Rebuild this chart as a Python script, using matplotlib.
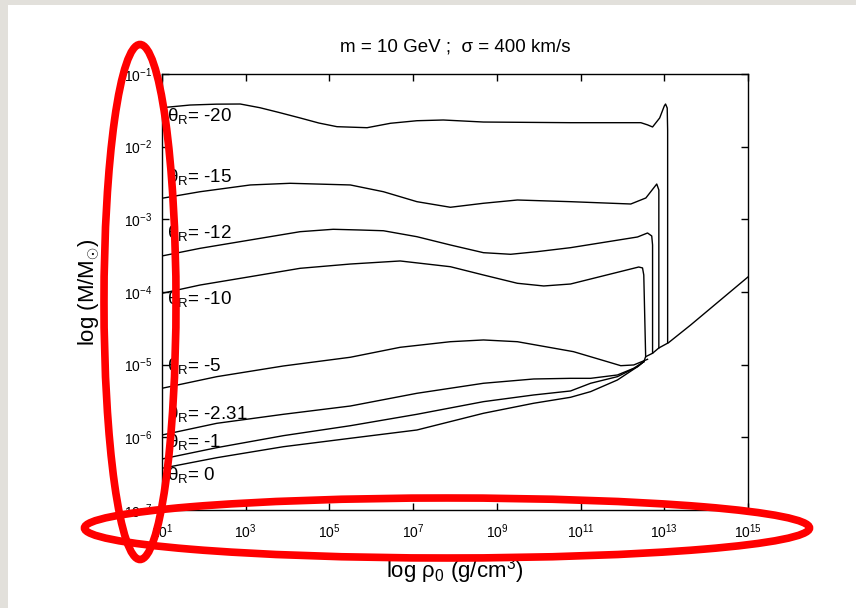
import matplotlib
matplotlib.use("Agg")
import matplotlib.pyplot as plt
from matplotlib.patches import Ellipse, Rectangle
from matplotlib.ticker import NullLocator
import numpy as np

plt.rcParams['font.family'] = ['Liberation Sans', 'DejaVu Sans']
plt.rcParams['mathtext.fontset'] = 'custom'
plt.rcParams['mathtext.rm'] = 'Liberation Sans'
plt.rcParams['mathtext.it'] = 'Liberation Sans:italic'

# curves: log10(rho0) and log10(M/Msun)
lx_20 = [1.0, 1.67, 2.3, 2.87, 3.34, 3.8, 4.30, 4.75, 5.18, 5.90, 6.46, 7.09, 7.72, 8.68, 10.76, 12.44, 12.6, 12.72, 12.89, 13.00, 13.03, 13.07, 13.08, 13.08]
ly_20 = [-1.464, -1.427, -1.415, -1.413, -1.464, -1.53, -1.605, -1.675, -1.725, -1.739, -1.678, -1.643, -1.633, -1.661, -1.670, -1.670, -1.70, -1.729, -1.605, -1.44, -1.413, -1.468, -1.771, -4.70]

lx_15 = [1.0, 1.91, 3.11, 4.06, 5.50, 6.29, 7.09, 7.89, 8.68, 9.49, 10.76, 12.20, 12.56, 12.82, 12.87, 12.87]
ly_15 = [-2.710, -2.620, -2.527, -2.504, -2.527, -2.620, -2.757, -2.834, -2.779, -2.734, -2.757, -2.789, -2.706, -2.514, -2.596, -4.77]

lx_12 = [1.0, 1.91, 3.11, 4.30, 5.09, 5.74, 6.29, 7.09, 7.89, 8.68, 9.33, 9.96, 10.76, 12.36, 12.60, 12.70, 12.72, 12.72]
ly_12 = [-3.504, -3.399, -3.284, -3.170, -3.137, -3.147, -3.157, -3.239, -3.353, -3.459, -3.481, -3.445, -3.390, -3.243, -3.188, -3.229, -3.353, -4.84]

lx_10 = [1.0, 1.91, 3.11, 4.30, 5.50, 6.69, 7.89, 8.68, 9.49, 10.12, 10.76, 12.39, 12.48, 12.51, 12.555]
ly_10 = [-4.018, -3.904, -3.789, -3.674, -3.615, -3.573, -3.652, -3.766, -3.880, -3.917, -3.890, -3.656, -3.669, -3.766, -4.89]

lx_5 = [1.0, 2.31, 3.90, 5.50, 6.69, 7.89, 8.68, 9.49, 10.83, 11.64, 11.96, 12.27, 12.60]
ly_5 = [-5.325, -5.165, -5.018, -4.898, -4.761, -4.684, -4.660, -4.684, -4.821, -4.959, -5.014, -5.004, -4.926]

lx_231 = [1.0, 2.31, 3.90, 5.50, 7.09, 8.68, 9.88, 10.76, 11.24, 11.88, 12.27, 12.51]
ly_231 = [-5.968, -5.807, -5.683, -5.569, -5.394, -5.256, -5.197, -5.188, -5.188, -5.142, -5.050, -4.959]

lx_1 = [1.0, 2.31, 3.90, 5.50, 7.09, 8.68, 9.88, 10.76, 11.24, 11.88, 12.36, 12.51]
ly_1 = [-6.298, -6.142, -5.977, -5.840, -5.683, -5.509, -5.417, -5.362, -5.256, -5.165, -5.028, -4.959]

lx_0 = [1.0, 2.31, 3.90, 5.50, 7.09, 8.68, 9.88, 10.76, 11.24, 11.88, 12.36, 12.51]
ly_0 = [-6.426, -6.280, -6.129, -6.013, -5.899, -5.669, -5.531, -5.449, -5.371, -5.211, -5.028, -4.959]

# common high-density branch
lx_env = [12.51, 12.555, 12.72, 12.87, 13.10, 13.63, 15.0]
ly_env = [-4.959, -4.890, -4.843, -4.770, -4.698, -4.454, -3.793]

labels = ['-20', '-15', '-12', '-10', '-5', '-2.31', '-1', '0']
label_ly = [-1.578, -2.417, -3.188, -4.096, -5.018, -5.679, -6.064, -6.518]

curves = [(lx_20, ly_20), (lx_15, ly_15), (lx_12, ly_12), (lx_10, ly_10),
          (lx_5, ly_5), (lx_231, ly_231), (lx_1, ly_1), (lx_0, ly_0), (lx_env, ly_env)]

W, H = 856, 608
fig = plt.figure(figsize=(W / 100, H / 100), dpi=100)
fig.patch.set_facecolor('#e2e0db')
fig.patches.append(Rectangle((8 / W, 0), 1, 1 - 5 / H, transform=fig.transFigure,
                             facecolor='white', edgecolor='none', zorder=-5))

ax = fig.add_axes([162 / W, 1 - 510 / H, (748 - 162) / W, (510 - 74) / H])
ax.set_facecolor('white')
for lx, ly in curves:
    ax.plot(10 ** np.array(lx), 10 ** np.array(ly), color='black', lw=1.0)

for lab, yy in zip(labels, label_ly):
    ax.text(10 ** 1.12, 10 ** yy, '\u03b8' + r'$_{\mathrm{R}}$= ' + lab, fontsize=13.5,
            va='center', ha='left')

ax.set_xscale('log')
ax.set_yscale('log')
ax.set_xlim(1e1, 1e15)
ax.set_ylim(1e-7, 1e-1)
ax.set_xticks([10.0 ** k for k in range(1, 16, 2)])
ax.set_yticks([10.0 ** k for k in range(-7, 0)])
ax.xaxis.set_minor_locator(NullLocator())
ax.yaxis.set_minor_locator(NullLocator())
ax.tick_params(direction='in', length=5, width=1, top=True, right=True, labelsize=10)
ax.tick_params(axis='x', pad=9)
ax.tick_params(axis='y', pad=7)
for s in ax.spines.values():
    s.set_linewidth(1.0)

ax.set_title('m = 10 GeV ;  \u03c3 = 400 km/s', fontsize=13.5, pad=16)
ax.set_ylabel('log (M/M' + r'$_{\odot}$' + ')', fontsize=16, labelpad=16)
ax.set_xlabel('log \u03c1' + r'$_0$' + ' (g/cm' + r'$^3$' + ')', fontsize=16, labelpad=10)

# red highlight rings drawn over the figure
fig.patches.append(Ellipse((140 / W, 1 - 302 / H), 72 / W, 515 / H, transform=fig.transFigure,
                           fill=False, edgecolor='#ff0000', lw=5.5, zorder=10))
fig.patches.append(Ellipse((447 / W, 1 - 528 / H), 725 / W, 60 / H, transform=fig.transFigure,
                           fill=False, edgecolor='#ff0000', lw=5.5, zorder=9))

fig.savefig('out.png', dpi=100, facecolor=fig.get_facecolor())
